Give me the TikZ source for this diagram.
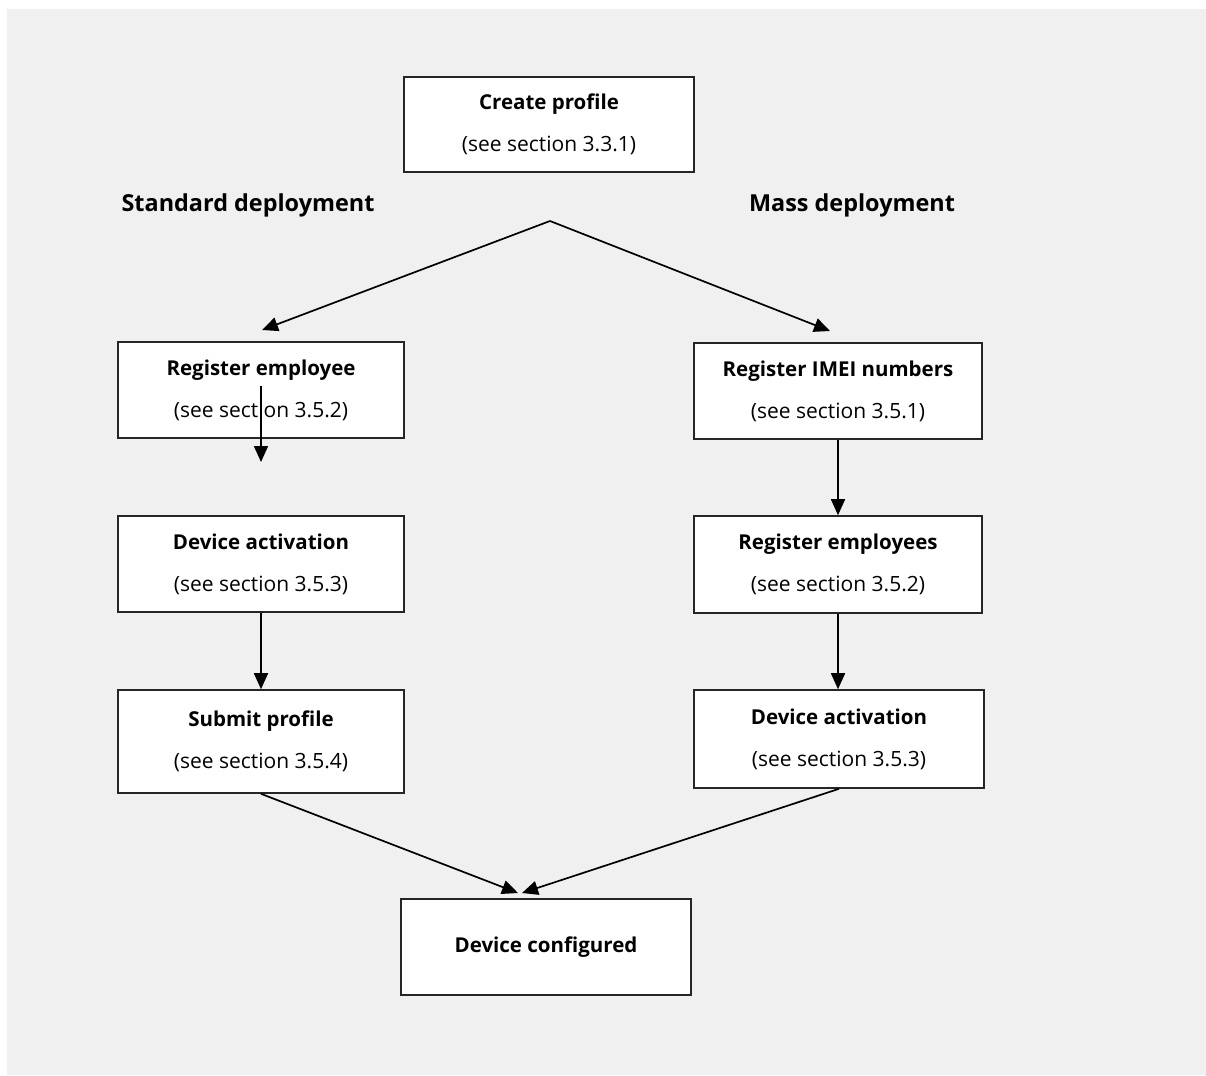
\documentclass[tikz,border=0pt]{standalone}
\usepackage{fontspec}
\setmainfont{Open Sans}
\usetikzlibrary{arrows.meta,calc}
\definecolor{bggray}{HTML}{F0F0F0}
\newcommand{\ttl}[1]{{\fontsize{20.5}{42}\selectfont\bfseries #1}}
\newcommand{\sbt}[1]{{\fontsize{21}{42}\selectfont #1}}
\tikzset{
  stepbox/.style={draw=black!85, line width=1.6pt, fill=white, inner sep=0pt, align=center,
    font=\fontsize{21}{42}\selectfont},
  arr/.style={line width=1.7pt, -{Triangle[width=14pt,length=16pt]}},
  heading/.style={font=\fontsize{23.4}{28}\selectfont\bfseries, inner sep=0pt}
}
\begin{document}
\begin{tikzpicture}[x=1pt,y=-1pt]
\useasboundingbox (0,0) rectangle (1206,1075);
\fill[bggray] (7,9) rectangle (1206,1075);
% boxes
\node[stepbox, minimum width=290pt, minimum height=95pt] (create) at (549,124.5) {\ttl{Create profile}\\\sbt{(see section 3.3.1)}};
\node[stepbox, minimum width=286pt, minimum height=96pt] (regemp) at (261,390) {\ttl{Register employee}\\\sbt{(see section 3.5.2)}};
\node[stepbox, minimum width=286pt, minimum height=96pt] (devact) at (261,564) {\ttl{Device activation}\\\sbt{(see section 3.5.3)}};
\node[stepbox, minimum width=286pt, minimum height=103pt] (submit) at (261,741.5) {\ttl{Submit profile}\\\sbt{(see section 3.5.4)}};
\node[stepbox, minimum width=288pt, minimum height=96pt] (regimei) at (838,391) {\ttl{Register IMEI numbers}\\\sbt{(see section 3.5.1)}};
\node[stepbox, minimum width=288pt, minimum height=97pt] (regemps) at (838,564.5) {\ttl{Register employees}\\\sbt{(see section 3.5.2)}};
\node[stepbox, minimum width=290pt, minimum height=98pt] (devact2) at (839,739) {\ttl{Device activation}\\\sbt{(see section 3.5.3)}};
\node[stepbox, minimum width=290pt, minimum height=96pt] (config) at (546,947) {\ttl{Device configured}};
% headings
\node[heading] (std) at (248,205) {Standard deployment};
\node[heading] (mass) at (852,205) {Mass deployment};
% coordinates
\coordinate (apex) at (550,221);
\coordinate (lend) at (262,330);
\coordinate (rend) at (830,331);
\coordinate (inA) at (261,386);
\coordinate (inB) at (261,462);
\coordinate (cfL) at (518,893);
\coordinate (cfR) at (522,893);
% connectors
\draw[arr] (apex) -- (lend);
\draw[arr] (apex) -- (rend);
\draw[arr] (inA) -- (inB);
\draw[arr] (devact.south) -- (submit.north);
\draw[arr] (regimei.south) -- (regemps.north);
\draw[arr] (regemps.south) -- (regemps.south |- devact2.north);
\draw[arr] (submit.south) -- (cfL);
\draw[arr] (devact2.south) -- (cfR);
\end{tikzpicture}
\end{document}
